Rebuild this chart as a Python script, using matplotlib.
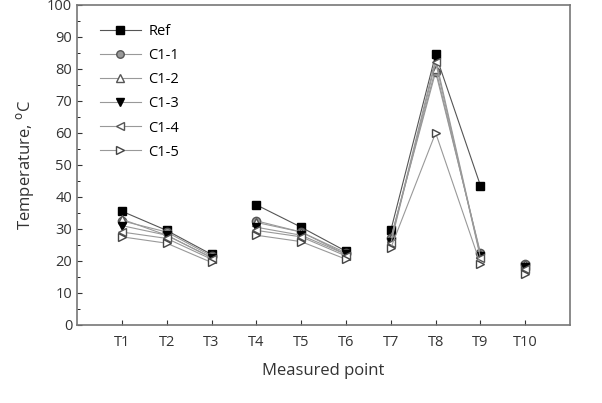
import numpy as np
import matplotlib
matplotlib.use('Agg')
import matplotlib.pyplot as plt
from matplotlib.ticker import MultipleLocator

plt.rcParams['font.family'] = ['Open Sans', 'DejaVu Sans']

points = ['T1', 'T2', 'T3', 'T4', 'T5', 'T6', 'T7', 'T8', 'T9', 'T10']
ref  = [35.5, 29.5, 22.0, 37.5, 30.5, 23.0, 29.5, 84.5, 43.5, 18.5]
c1_1 = [32.5, 29.0, 21.5, 32.5, 29.0, 22.5, 27.0, 79.0, 22.5, 19.0]
c1_2 = [33.0, 28.0, 21.0, 32.0, 29.0, 22.0, 27.0, 80.0, 22.0, 19.0]
c1_3 = [31.0, 28.0, 21.0, 30.5, 28.0, 22.0, 26.0, 83.0, 21.5, 18.0]
c1_4 = [29.0, 27.0, 20.5, 29.5, 27.5, 21.5, 25.5, 82.0, 21.0, 17.5]
c1_5 = [27.5, 25.5, 19.5, 28.0, 26.0, 20.5, 24.0, 60.0, 19.0, 16.0]

groups = [(0, 3), (3, 6), (6, 9), (9, 10)]

series = [
    ('Ref', ref, 's', 'black', 'black', '#555555'),
    ('C1-1', c1_1, 'o', '#999999', '#555555', '#999999'),
    ('C1-2', c1_2, '^', 'white', '#555555', '#999999'),
    ('C1-3', c1_3, 'v', 'black', 'black', '#999999'),
    ('C1-4', c1_4, '<', 'white', '#555555', '#999999'),
    ('C1-5', c1_5, '>', 'white', '#444444', '#999999'),
]

fig = plt.figure(figsize=(6.02, 4.03), dpi=100)
ax = fig.add_axes([0.128, 0.194, 0.819, 0.794])

x = np.arange(1, len(points) + 1)
for name, vals, mk, fc, ec, lc in series:
    vals = np.array(vals)
    for i, (a, b) in enumerate(groups):
        ax.plot(x[a:b], vals[a:b], color=lc, lw=0.8, marker=mk, ms=6,
                mfc=fc, mec=ec, mew=1.0, label=name if i == 0 else None)

ax.set_xlim(0, 11)
ax.set_ylim(0, 100)
ax.set_xticks(x)
ax.set_xticklabels(points)
ax.yaxis.set_major_locator(MultipleLocator(10))
ax.yaxis.set_minor_locator(MultipleLocator(5))
ax.tick_params(direction='in', labelsize=10.5, colors='#333333')
ax.tick_params(axis='x', pad=7)
ax.tick_params(which='minor', direction='in', length=2)
for s in ax.spines.values():
    s.set_color('#777777')
    s.set_linewidth(1.2)

ax.set_xlabel('Measured point', fontsize=12, color='#333333', labelpad=10)
ax.set_ylabel('Temperature, $^{\\mathrm{o}}$C', fontsize=12, color='#333333', labelpad=8)

ax.legend(loc='upper left', frameon=False, fontsize=10.5, handlelength=2.8,
          handletextpad=0.5, labelspacing=0.62, markerscale=0.9,
          bbox_to_anchor=(0.02, 0.98))

fig.savefig('out.png', dpi=100)
